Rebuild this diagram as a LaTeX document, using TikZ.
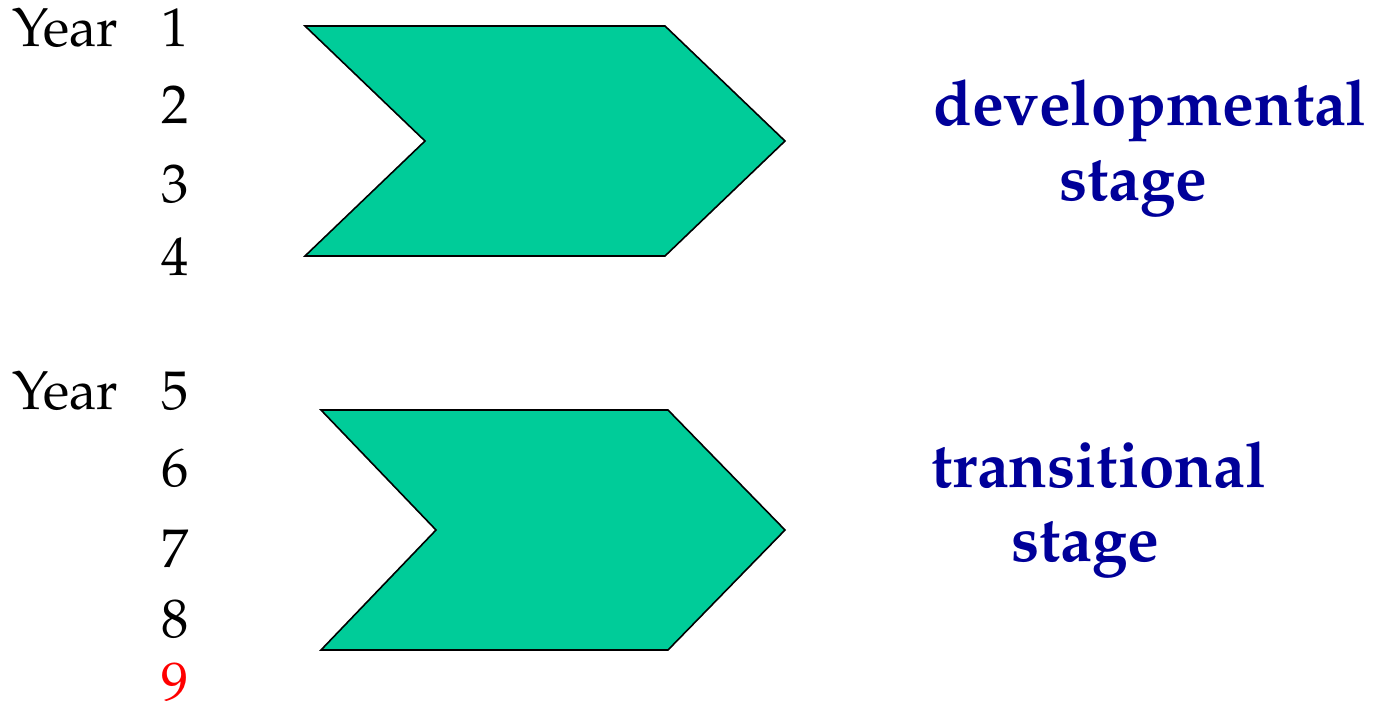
\documentclass[tikz,border=0pt]{standalone}
\usepackage[T1]{fontenc}
\usepackage{palatino}
\definecolor{chev}{RGB}{0,204,153}
\definecolor{stageblue}{RGB}{0,0,153}
\tikzset{
  chevron/.style={fill=chev, draw=black, line width=1.6pt, line join=miter},
  yearlbl/.style={anchor=base west, inner sep=0pt, font=\fontsize{54.5}{60}\selectfont},
  stagelbl/.style={anchor=base west, inner sep=0pt, text=stageblue, font=\fontsize{63.5}{70}\selectfont\bfseries},
}
\begin{document}
\begin{tikzpicture}[x=1pt,y=-1pt]
\useasboundingbox (0,0) rectangle (1373,706);
% chevrons
\draw[chevron] (305,26) -- (665,26) -- (785,141) -- (665,256) -- (305,256) -- (425,141) -- cycle;
\draw[chevron] (321,410) -- (668,410) -- (785,530) -- (668,650) -- (321,650) -- (436,530) -- cycle;
% year labels
\node[yearlbl] (y1) at (12,47) {Year};
\node[yearlbl] (n1) at (161,47) {1};
\node[yearlbl] (n2) at (161,124) {2};
\node[yearlbl] (n3) at (161,202) {3};
\node[yearlbl] (n4) at (161,275) {4};
\node[yearlbl] (y2) at (12,409) {Year};
\node[yearlbl] (n5) at (161,409) {5};
\node[yearlbl] (n6) at (161,486) {6};
\node[yearlbl] (n7) at (161,567) {7};
\node[yearlbl] (n8) at (161,637) {8};
\node[yearlbl, text=red] (n9) at (161,700) {9};
% stage labels
\node[stagelbl] (d1) at (933,125) {developmental};
\node[stagelbl] (d2) at (1059,200) {stage};
\node[stagelbl] (t1) at (931,487) {transitional};
\node[stagelbl] (t2) at (1011,561) {stage};
\end{tikzpicture}
\end{document}
